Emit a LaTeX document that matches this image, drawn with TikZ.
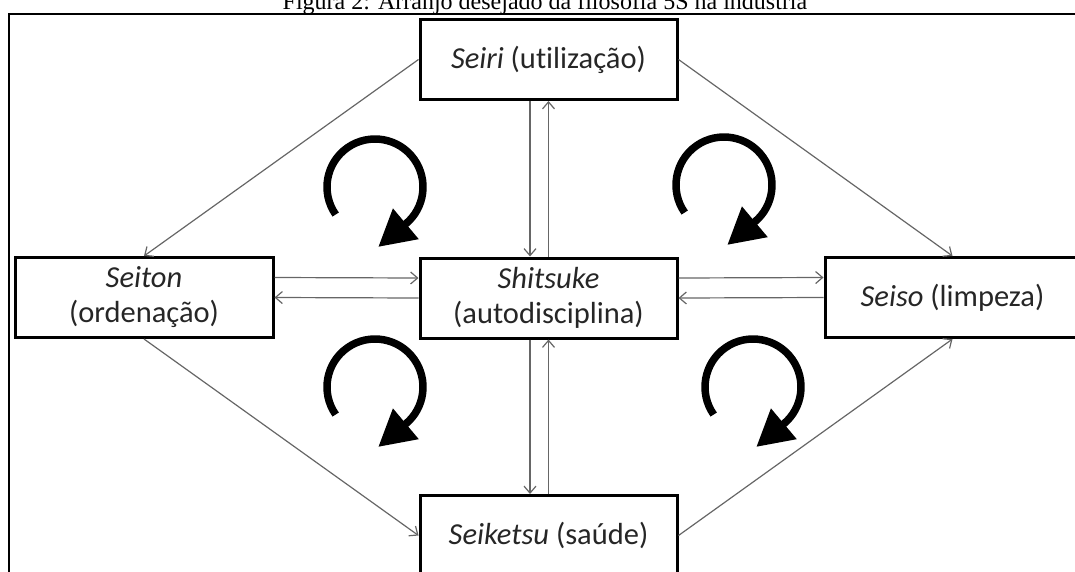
\documentclass[tikz,border=0pt]{standalone}
\usepackage{fontspec}
\setmainfont{Liberation Serif}
\newfontfamily\labelfont[Ligatures=NoCommon]{Carlito}
\usetikzlibrary{positioning,arrows.meta}
\tikzset{
fivees/.style={
    >={Straight Barb[length=7pt,width=12pt]},
    x=1pt,
    y=1pt
},
stage/.style={
    rectangle,
    draw=black,
    line width=3pt,
    minimum width=257pt,
    minimum height=80pt,
    inner sep=2pt,
    align=center,
    text=black!85,
    font=\labelfont\fontsize{30.5}{35}\selectfont
},
sees/.style={
    ->,
    draw=black!60,
    line width=1.2pt
},
curl/.style={
    line width=7.5pt,
    -{Triangle[length=36pt,width=38pt]}
}}

\begin{document}
\begin{tikzpicture}[fivees]
\useasboundingbox (0,0) rectangle (1075,-571);
\clip (0,0) rectangle (1075,-571);

% caption and frame
\node[anchor=base, font=\fontsize{24}{28}\selectfont] (caption) at (545,-9) {Figura 2: Arranjo desejado da filosofia 5S na indústria};
\draw[line width=2pt] (9,-590) -- (9,-14) -- (1090,-14);

% the five S
\node[stage]    (seiri)    at (548.5,-59.5)    {\textit{Seiri} (utilização)};
\node[stage]    (shitsuke) at (548.5,-298)     {\textit{Shitsuke}\\(autodisciplina)};
\node[stage, minimum width=258pt]    (seiton)   at (144,-297.5)   {\textit{Seiton}\\(ordenação)};
\node[stage, minimum width=255pt]    (seiso)    at (952.5,-297.5) {\textit{Seiso} (limpeza)};
\node[stage]    (seiketsu) at (548.5,-535.5)   {\textit{Seiketsu} (saúde)};

\path    ([xshift=-18.5pt]seiri.south)    edge[sees]    ([xshift=-18.5pt]shitsuke.north);
\path    (shitsuke.north)    edge[sees]    (seiri.south);
\path    ([xshift=-18.5pt]shitsuke.south)    edge[sees]    ([xshift=-18.5pt]seiketsu.north);
\path    (seiketsu.north)    edge[sees]    (shitsuke.south);
\path    ([yshift=20pt]seiton.east)    edge[sees]    ([yshift=20pt]shitsuke.west);
\path    (shitsuke.west)    edge[sees]    (seiton.east);
\path    ([yshift=20pt]shitsuke.east)    edge[sees]    ([yshift=20pt]seiso.west);
\path    (seiso.west)    edge[sees]    (shitsuke.east);
\path    (seiri.west)    edge[sees]    (seiton.north);
\path    (seiri.east)    edge[sees]    (seiso.north);
\path    (seiton.south)    edge[sees]    (seiketsu.west);
\path    (seiketsu.east)    edge[sees]    (seiso.south);

% turning arrows
\coordinate (c1) at (375,-187);
\coordinate (c2) at (724,-185);
\coordinate (c3) at (375,-387);
\coordinate (c4) at (753,-387);
\foreach \c in {c1,c2,c3,c4}
    \draw[curl] ([shift={(215:48)}]\c) arc[start angle=215, end angle=-50, radius=48] -- ++(-140:36);
\end{tikzpicture}
\end{document}
